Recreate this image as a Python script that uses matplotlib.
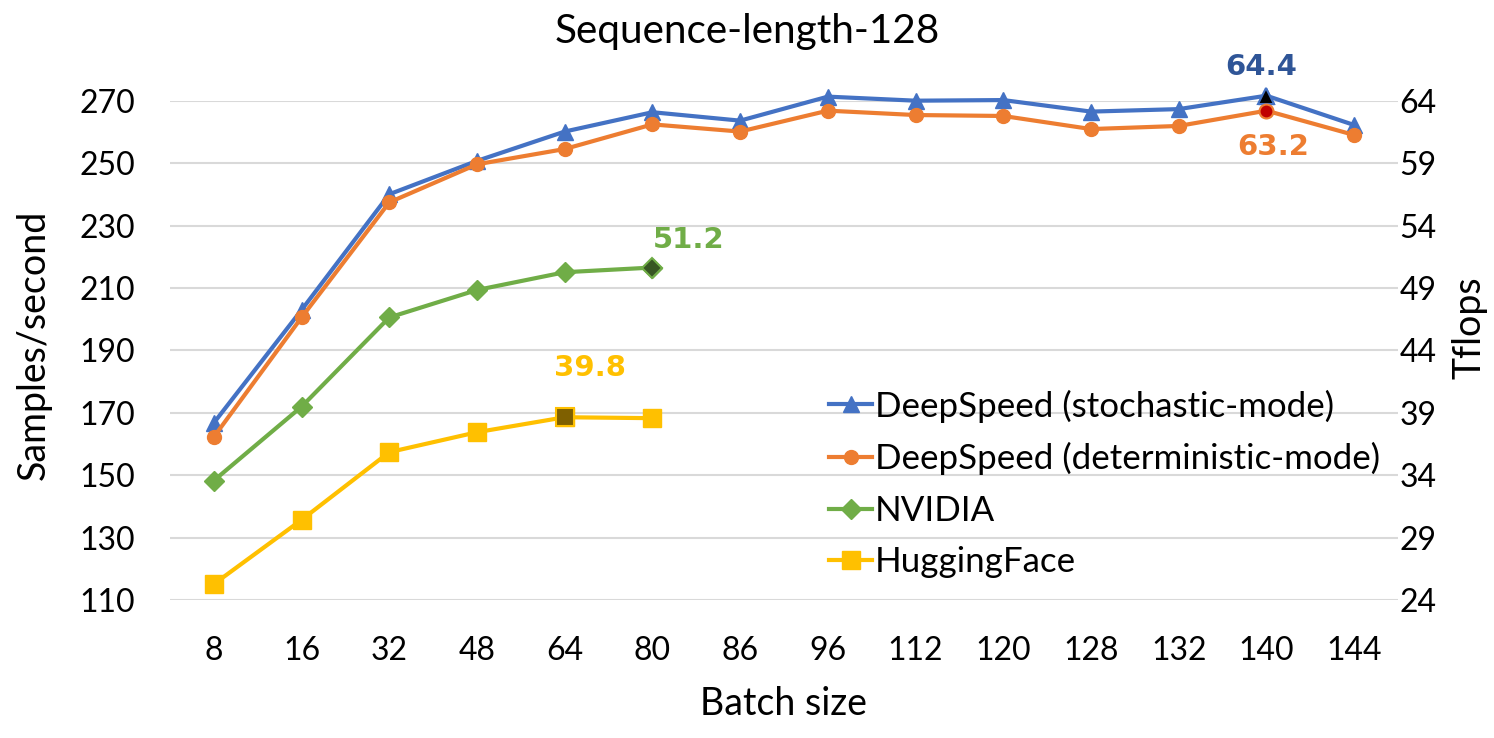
import matplotlib.pyplot as plt
import numpy as np

plt.rcParams['font.family'] = ['Lato', 'DejaVu Sans']

# Data
batch_sizes = ['8', '16', '32', '48', '64', '80', '86', '96', '112', '120', '128', '132', '140', '144']
stochastic = [166.8, 203.0, 240.1, 250.8, 260.2, 266.4, 263.7, 271.4, 270.1, 270.3, 266.6, 267.4, 271.7, 262.3]
deterministic = [162.3, 200.6, 237.5, 249.7, 254.6, 262.5, 260.2, 266.9, 265.5, 265.2, 261.0, 262.0, 266.9, 259.1]
nvidia = [148.3, 172.0, 200.6, 209.4, 215.1, 216.6]
huggingface = [115.1, 135.7, 157.4, 163.8, 168.6, 168.3]
left_ticks = [110, 130, 150, 170, 190, 210, 230, 250, 270]
right_ticks = [24, 29, 34, 39, 44, 49, 54, 59, 64]
series_names = ['DeepSpeed (stochastic-mode)', 'DeepSpeed (deterministic-mode)', 'NVIDIA', 'HuggingFace']

c_blue = '#4472C4'
c_orange = '#ED7D31'
c_green = '#70AD47'
c_yellow = '#FFC000'

W, H = 1494, 738
fig = plt.figure(figsize=(W / 100, H / 100), dpi=100)


def size_for(text, width_px, **kw):
    # font size that gives the text a given width in pixels
    t = fig.text(0, 0, text, fontsize=20, **kw)
    w = t.get_window_extent(fig.canvas.get_renderer()).width
    t.remove()
    return 20 * width_px / w


def height_for(text, size, **kw):
    t = fig.text(0, 0, text, fontsize=size, **kw)
    h = t.get_window_extent(fig.canvas.get_renderer()).height
    t.remove()
    return h


# plot area: x 170..1398 px, y 101..600 px
ax = fig.add_axes([170 / W, 1 - 600 / H, 1228 / W, 499 / H])
ax2 = ax.twinx()
ax.set_zorder(ax2.get_zorder() + 1)
ax.patch.set_visible(False)
x = np.arange(len(batch_sizes))

ax.plot(x, stochastic, color=c_blue, lw=3, marker='^', ms=11, label=series_names[0], clip_on=False, zorder=4)
ax.plot(x, deterministic, color=c_orange, lw=3, marker='o', ms=10, label=series_names[1], clip_on=False, zorder=4)
ax.plot(x[:len(nvidia)], nvidia, color=c_green, lw=3, marker='D', ms=10.5, label=series_names[2], clip_on=False, zorder=3)
ax.plot(x[:len(huggingface)], huggingface, color=c_yellow, lw=3, marker='s', ms=13.5, label=series_names[3], clip_on=False, zorder=3)

# Highlighted peak points
ax.plot(x[12], stochastic[12], marker='^', ms=11, color='black', mec=c_blue, mew=1.5, zorder=5, clip_on=False)
ax.plot(x[12], deterministic[12], marker='o', ms=10, color='#C00000', mec=c_orange, mew=1.5, zorder=5, clip_on=False)
ax.plot(x[5], nvidia[5], marker='D', ms=10.5, color='#375623', mec=c_green, mew=1.5, zorder=5, clip_on=False)
ax.plot(x[4], huggingface[4], marker='s', ms=13.5, color='#7F6000', mec=c_yellow, mew=1.5, zorder=5, clip_on=False)

ann_size = size_for('64.4', 72, family='DejaVu Sans', fontweight='bold')
lab = dict(textcoords='offset points', fontsize=ann_size, fontweight='bold', family='DejaVu Sans',
           annotation_clip=False, ha='center', va='baseline')
ax.annotate('64.4', (x[12], stochastic[12]), xytext=(-4, 15), color='#2F5597', **lab)
ax.annotate('63.2', (x[12], deterministic[12]), xytext=(5, -32), color=c_orange, **lab)
ax.annotate('51.2', (x[5], nvidia[5]), xytext=(26, 14), color=c_green, **lab)
ax.annotate('39.8', (x[4], huggingface[4]), xytext=(18, 30), color=c_yellow, **lab)

ax.set_xlim(-0.5, len(batch_sizes) - 0.5)
ax.set_ylim(110, 270)
ax.set_xticks(x)
ax.set_xticklabels(batch_sizes)
ax.set_yticks(left_ticks)
ax2.set_ylim(110, 270)
ax2.set_yticks(left_ticks)
ax2.set_yticklabels([str(t) for t in right_ticks])
ax2.grid(axis='y', color='#D9D9D9', lw=1.5)
ax.tick_params(axis='y', length=0, labelsize=23, pad=25)
ax.tick_params(axis='x', length=0, labelsize=23, pad=26)
ax2.tick_params(length=0, labelsize=23, pad=1)
for s in list(ax.spines.values()) + list(ax2.spines.values()):
    s.set_visible(False)

label_size = 27
ax.set_xlabel('Batch size', fontsize=label_size, va='baseline')
ax.xaxis.set_label_coords(0.5, -115 / 499)
ax.set_ylabel('Samples/second', fontsize=label_size, va='center')
ax.yaxis.set_label_coords((34 - 170) / 1228, (600 - 345) / 499)
ax2.set_ylabel('Tflops', fontsize=label_size, va='center')
ax2.yaxis.set_label_coords((1469 - 170) / 1228, (600 - 328) / 499)

fig.suptitle('Sequence-length-128', fontsize=size_for('Sequence-length-128', 387),
             x=0.5, y=1 - 43 / H, va='baseline')

leg_size = size_for(series_names[1], 505)
leg_px = leg_size * 100 / 72
row_h = height_for(series_names[1], leg_size)
ax.legend(loc='center left', bbox_to_anchor=(829 / W, 1 - 484 / H), bbox_transform=fig.transFigure,
          frameon=False, fontsize=leg_size, borderpad=0, borderaxespad=0,
          handlelength=43 / leg_px, handletextpad=3 / leg_px, labelspacing=(52.7 - row_h) / leg_px)

plt.savefig('out.png', dpi=100)
